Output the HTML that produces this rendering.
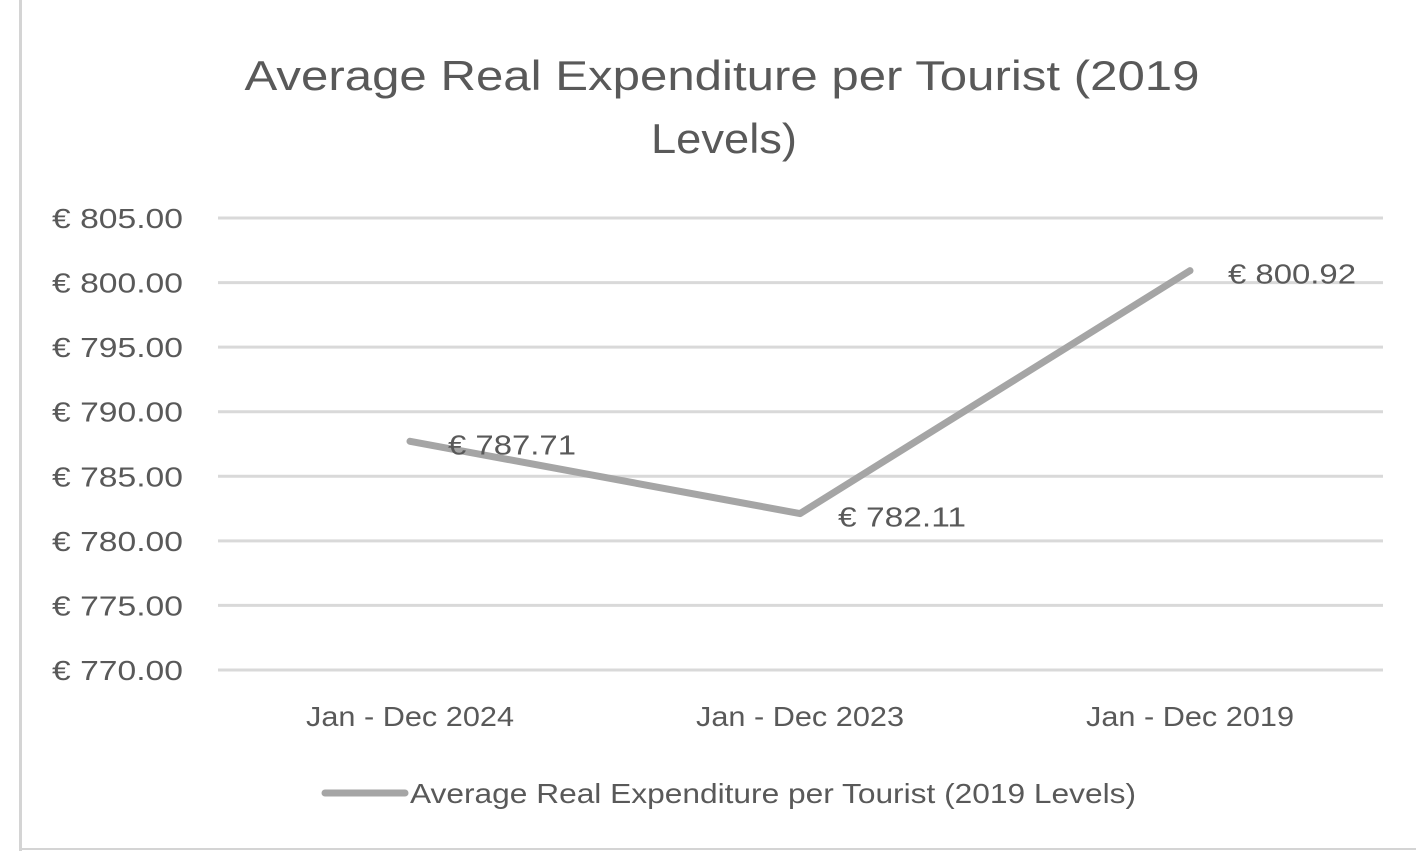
<!DOCTYPE html>
<html><head><meta charset="utf-8"><style>
html,body{margin:0;padding:0;background:#fff;width:1416px;height:853px;overflow:hidden}
svg text{font-family:"Liberation Sans",sans-serif;fill:#595959}
</style></head><body>
<svg id="c" width="1416" height="853">
<rect x="19" y="0" width="3" height="851" fill="#d4d4d4"/>
<rect x="19" y="848" width="1397" height="2" fill="#d4d4d4"/>
<text x="722" y="90" font-size="42" text-anchor="middle" textLength="955" lengthAdjust="spacingAndGlyphs">Average Real Expenditure per Tourist (2019</text>
<text x="724" y="153" font-size="42" text-anchor="middle" textLength="146" lengthAdjust="spacingAndGlyphs">Levels)</text>
<g id="grid"></g><g id="series"></g>
<line x1="325" y1="793" x2="405" y2="793" stroke="#a5a5a5" stroke-width="7" stroke-linecap="round"/>
<text x="410" y="803" font-size="28" textLength="726" lengthAdjust="spacingAndGlyphs">Average Real Expenditure per Tourist (2019 Levels)</text>
</svg>
<script>
const categories=["Jan - Dec 2024","Jan - Dec 2023","Jan - Dec 2019"];
const values=[787.71,782.11,800.92];
const valueLabels=["€ 787.71","€ 782.11","€ 800.92"];
const ticks=[770,775,780,785,790,795,800,805];
const tickLabels=["€ 770.00","€ 775.00","€ 780.00","€ 785.00","€ 790.00","€ 795.00","€ 800.00","€ 805.00"];
const NS="http://www.w3.org/2000/svg";
const x0=215,band=390,yMin=770,yMax=805,yTop=218,yBot=670;
const xs=i=>x0+band*(i+0.5);
const ys=v=>yBot-(v-yMin)/(yMax-yMin)*(yBot-yTop);
function mk(t,a,p){const e=document.createElementNS(NS,t);for(const k in a)e.setAttribute(k,a[k]);p.appendChild(e);return e;}
const g=document.getElementById('grid'),s=document.getElementById('series');
ticks.forEach((t,i)=>{
 const l=mk('line',{x1:218,x2:1383,y1:ys(t),y2:ys(t),stroke:'#d9d9d9','stroke-width':3},g);
 
 
 const tx=mk('text',{x:183,y:ys(t)+10,'font-size':28,'text-anchor':'end',textLength:131,lengthAdjust:'spacingAndGlyphs'},g);
 tx.textContent=tickLabels[i];
 
 
});
categories.forEach((c,i)=>{
 const tx=mk('text',{x:xs(i),y:726,'font-size':28,'text-anchor':'middle',textLength:208,lengthAdjust:'spacingAndGlyphs'},g);
 tx.textContent=c;
 
 
});
const pl=mk('polyline',{points:values.map((v,i)=>xs(i)+','+ys(v)).join(' '),fill:'none',stroke:'#a5a5a5','stroke-width':7,'stroke-linecap':'round','stroke-linejoin':'round'},s);


values.forEach((v,i)=>{
 const tx=mk('text',{x:xs(i)+38,y:ys(v)+13,'font-size':28,textLength:128,lengthAdjust:'spacingAndGlyphs'},s);
 tx.textContent=valueLabels[i];
 
 
});
</script>
</body></html>
